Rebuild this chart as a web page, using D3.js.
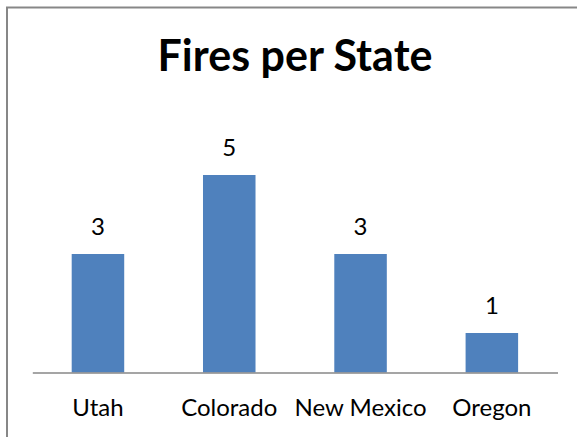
<!DOCTYPE html>
<html>
<head>
<meta charset="utf-8">
<script src="https://cdn.jsdelivr.net/npm/d3@7"></script>
<style>
  html, body { margin: 0; padding: 0; background: #fff; }
  svg { display: block; }
</style>
</head>
<body>
<script>
const states = ["Utah", "Colorado", "New Mexico", "Oregon"];
const fires = [3, 5, 3, 1];
const title = "Fires per State";

const width = 577;
const height = 437;
const font = "Lato, 'Open Sans', sans-serif";

const svg = d3.select("body").append("svg")
    .attr("width", width)
    .attr("height", height);

// chart frame (only top/left visible, rest is cropped)
svg.append("rect")
    .attr("x", 7)
    .attr("y", 7.5)
    .attr("width", 600)
    .attr("height", 500)
    .attr("fill", "#fff")
    .attr("stroke", "#878787")
    .attr("stroke-width", 2);

svg.append("text")
    .attr("x", 295)
    .attr("y", 71)
    .attr("text-anchor", "middle")
    .style("font", `bold 43px ${font}`)
    .text(title);

const x = d3.scaleBand()
    .domain(states)
    .range([32.3, 557.5])
    .paddingInner(0.6)
    .paddingOuter(0.3);

const y = d3.scaleLinear()
    .domain([0, 6])
    .range([372.5, 135.5]);

svg.append("g")
    .selectAll("rect")
    .data(states)
    .join("rect")
    .attr("x", d => x(d))
    .attr("y", (d, i) => y(fires[i]))
    .attr("width", x.bandwidth())
    .attr("height", (d, i) => y(0) - y(fires[i]))
    .attr("fill", "#4F81BD");

svg.append("g")
    .selectAll("text")
    .data(states)
    .join("text")
    .attr("x", d => x(d) + x.bandwidth() / 2)
    .attr("y", (d, i) => y(fires[i]) - 19)
    .attr("text-anchor", "middle")
    .style("font", `24px ${font}`)
    .text((d, i) => fires[i]);

const axis = svg.append("g")
    .attr("transform", `translate(0,${y(0)})`)
    .call(d3.axisBottom(x).tickSize(0).tickPadding(25));

axis.select(".domain")
    .attr("stroke", "#878787")
    .attr("stroke-width", 1.5);

axis.selectAll("text")
    .attr("dy", null)
    .attr("dominant-baseline", "auto")
    .attr("y", 43.5)
    .style("font", `24px ${font}`)
    .attr("fill", "#000");
</script>
</body>
</html>
